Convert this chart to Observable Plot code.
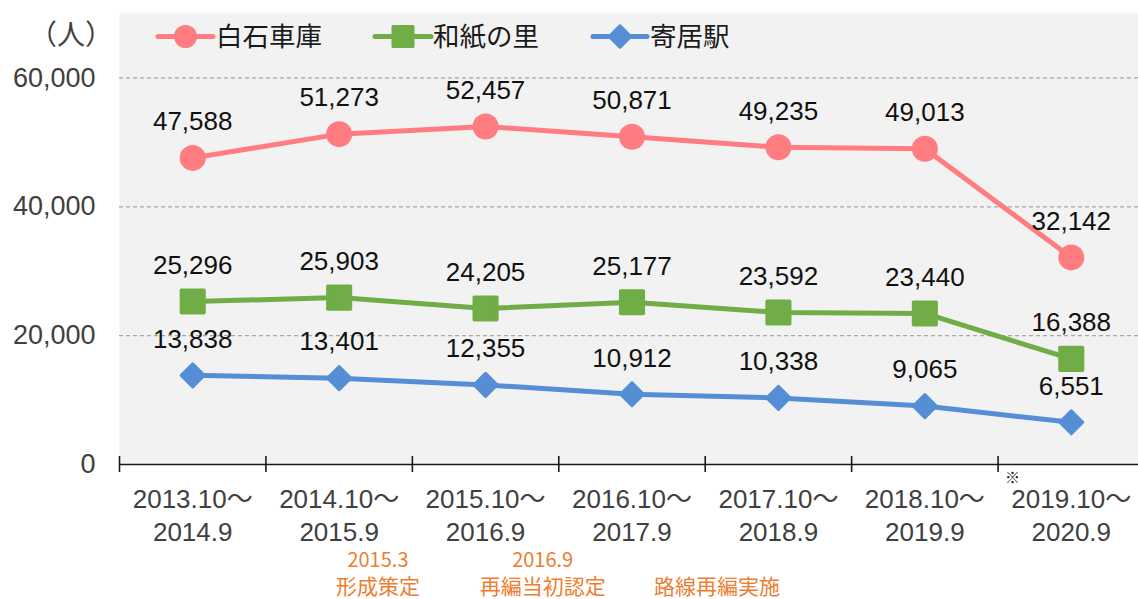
<!DOCTYPE html>
<html><head><meta charset="utf-8">
<script src="https://cdn.jsdelivr.net/npm/d3@7"></script>
<script src="https://cdn.jsdelivr.net/npm/@observablehq/plot@0.6"></script>
<style>
body{margin:0;background:#fff;}
#wrap{position:relative;width:1138px;height:599px;overflow:hidden;}
#unit{position:absolute;left:29px;top:16px;font:28px "Noto Sans CJK JP",sans-serif;color:#404040;line-height:34px;white-space:nowrap;}
#legend{position:absolute;left:0;top:0;width:1138px;height:70px;pointer-events:none;}
</style></head><body><div id="wrap"><div id="unit">（人）</div></div>
<script>
const periodStart = ["2013.10～","2014.10～","2015.10～","2016.10～","2017.10～","2018.10～","2019.10～"];
const periodEnd = ["2014.9","2015.9","2016.9","2017.9","2018.9","2019.9","2020.9"];
const seriesNames = ["白石車庫","和紙の里","寄居駅"];
const shiraishi = [47588,51273,52457,50871,49235,49013,32142];
const washi = [25296,25903,24205,25177,23592,23440,16388];
const yorii = [13838,13401,12355,10912,10338,9065,6551];
const yTicks = [0,20000,40000,60000];
const colors = ["#FF7C80","#70AD47","#558ED5"];
const noteTop = [{pos:1.765, text:"2015.3"},{pos:2.89, text:"2016.9"}];
const noteBottom = [{pos:1.765, text:"形成策定"},{pos:2.89, text:"再編当初認定"},{pos:4.08, text:"路線再編実施"}];

const seriesValues = [shiraishi, washi, yorii];
const rows = seriesValues.map((vals, s) => vals.map((v, i) => ({series: seriesNames[s], s, i, x: i + 0.5, v})));

const squareSym = {draw(ctx, size){const r=Math.sqrt(size/Math.PI); ctx.moveTo(-r,-r); ctx.lineTo(r,-r); ctx.lineTo(r,r); ctx.lineTo(-r,r); ctx.closePath();}};
const diamondSym = {draw(ctx, size){const r=Math.sqrt(size/Math.PI); ctx.moveTo(0,-r); ctx.lineTo(r,0); ctx.lineTo(0,r); ctx.lineTo(-r,0); ctx.closePath();}};

const fontNum = "'Liberation Sans', Arial, 'Noto Sans CJK JP', sans-serif";
const fontJP = "'Noto Sans CJK JP', sans-serif";

const marks = [
  Plot.frame({fill:"#F2F2F2"}),
  Plot.ruleY(yTicks.filter(d => d > 0), {stroke:"#A6A6A6", strokeWidth:1.3, strokeDasharray:"4,3"}),
  Plot.ruleY([0], {stroke:"#1a1a1a", strokeWidth:1.6}),
  Plot.ruleX(d3.range(periodStart.length), {x: d => d, y1: 0, y2: 0, insetTop:-8, insetBottom:-8, stroke:"#1a1a1a", strokeWidth:1.6}),
];
rows.forEach((r, s) => {
  marks.push(Plot.line(r, {x:"x", y:"v", stroke: colors[s], strokeWidth:5}));
});
marks.push(Plot.dot(rows[0], {x:"x", y:"v", r:13, fill:colors[0], symbol:"circle"}));
marks.push(Plot.dot(rows[1], {x:"x", y:"v", r:11.3, fill:colors[1], stroke:colors[1], strokeWidth:3.5, strokeLinejoin:"round", symbol:squareSym}));
marks.push(Plot.dot(rows[2], {x:"x", y:"v", r:11.5, fill:colors[2], stroke:colors[2], strokeWidth:3, strokeLinejoin:"round", symbol:diamondSym}));
rows.forEach((r) => {
  marks.push(Plot.text(r, {x:"x", y:"v", text: d => d3.format(",")(d.v), dy:-36, fontSize:26, fill:"#111", fontFamily:fontNum}));
});
marks.push(Plot.axisY(yTicks, {tickSize:0, tickPadding:24, tickFormat: d3.format(","), fontSize:27, fill:"#404040", fontFamily:fontNum}));
marks.push(Plot.axisX(periodStart.map((d, i) => i + 0.5), {tickSize:0, tickPadding:21, tickFormat: d => periodStart[Math.floor(d)] + "\n" + periodEnd[Math.floor(d)], lineHeight:1.24, fontSize:26, fill:"#404040", fontFamily:fontNum}));
marks.push(Plot.text(noteTop, {x:"pos", text:"text", frameAnchor:"bottom", lineAnchor:"middle", dy:96, fontSize:20, fill:"#ED7D31", fontFamily:fontJP}));
marks.push(Plot.text(noteBottom, {x:"pos", text:"text", frameAnchor:"bottom", lineAnchor:"middle", dy:123, fontSize:21, fill:"#ED7D31", fontFamily:fontJP}));
marks.push(Plot.text(["※"], {x: 6, frameAnchor:"bottom", lineAnchor:"middle", dx:14.5, dy:14, fontSize:15, fill:"#222", fontFamily:fontJP}));

const chart = Plot.plot({
  width:1138, height:599,
  marginLeft:119, marginRight:0, marginTop:13, marginBottom:135,
  x:{type:"linear", domain:[0,7], range:[119,1144], label:null},
  y:{domain:[0,70000], label:null},
  style:{background:"#fff", fontFamily:fontNum, overflow:"visible"},
  marks
});
document.getElementById("wrap").prepend(chart);

// legend overlay
const leg = d3.select("#wrap").append("svg").attr("id","legend").attr("width",1138).attr("height",70);
const legItems = [
  {name:seriesNames[0], x1:158, x2:213, tx:216, sym:"circle"},
  {name:seriesNames[1], x1:375, x2:431, tx:433, sym:"square"},
  {name:seriesNames[2], x1:593, x2:647, tx:650, sym:"diamond"}
];
const ly = 36.5;
legItems.forEach((it, s) => {
  const g = leg.append("g");
  g.append("line").attr("x1",it.x1).attr("x2",it.x2).attr("y1",ly).attr("y2",ly).attr("stroke",colors[s]).attr("stroke-width",5).attr("stroke-linecap","round");
  const cx = (it.x1+it.x2)/2;
  if (it.sym === "circle") g.append("circle").attr("cx",cx).attr("cy",ly).attr("r",11.5).attr("fill",colors[s]);
  else if (it.sym === "square") g.append("rect").attr("x",cx-10).attr("y",ly-10).attr("width",20).attr("height",20).attr("fill",colors[s]).attr("stroke",colors[s]).attr("stroke-width",3).attr("stroke-linejoin","round");
  else g.append("path").attr("d",`M${cx},${ly-11}L${cx+11},${ly}L${cx},${ly+11}L${cx-11},${ly}Z`).attr("fill",colors[s]).attr("stroke",colors[s]).attr("stroke-width",2.5).attr("stroke-linejoin","round");
  g.append("text").attr("x",it.tx).attr("y",ly).attr("dy","0.36em").attr("font-size",26.5).attr("font-family",fontJP).attr("fill","#1a1a1a").text(it.name);
});
</script>
</body></html>
